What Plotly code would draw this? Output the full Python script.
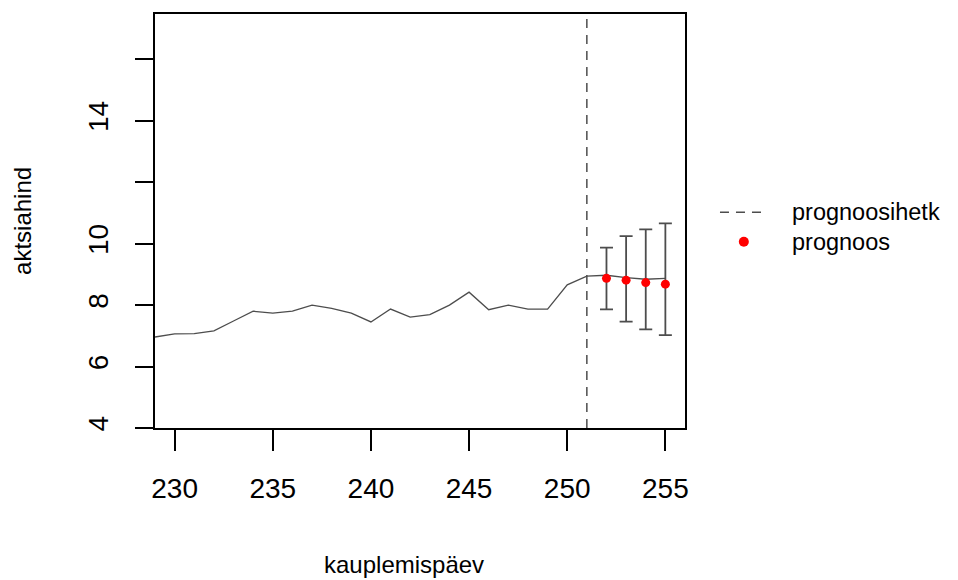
import plotly.graph_objects as go

# observed / fitted price line (trading days 229..255)
days = list(range(229, 256))
price = [6.96, 7.06, 7.07, 7.16, 7.48, 7.80, 7.74, 7.80, 8.00, 7.89, 7.74, 7.45,
         7.87, 7.61, 7.69, 8.00, 8.42, 7.85, 8.00, 7.87, 7.87, 8.66, 8.94,
         8.97, 8.89, 8.84, 8.87]

# forecast points with intervals
fc_days = [252, 253, 254, 255]
fc_value = [8.87, 8.81, 8.73, 8.68]
fc_lower = [7.86, 7.46, 7.21, 7.02]
fc_upper = [9.87, 10.24, 10.46, 10.66]

forecast_start = 251

x_ticks = [230, 235, 240, 245, 250, 255]
y_ticks = [4, 6, 8, 10, 12, 14, 16]
y_ticktext = ["4", "6", "8", "10", "", "14", ""]

legend_labels = ["prognoosihetk", "prognoos"]

FONT = "Liberation Sans, Arial, sans-serif"
GRAY = "#4d4d4d"
DASH = "9px,7px"

fig = go.Figure()

fig.add_trace(go.Scatter(
    x=days, y=price, mode="lines",
    line=dict(color=GRAY, width=1.3),
    showlegend=False, hoverinfo="skip"))

fig.add_trace(go.Scatter(
    x=fc_days, y=fc_value, mode="markers", name=legend_labels[1],
    marker=dict(color="#ff0000", size=9),
    showlegend=False,
    error_y=dict(type="data", symmetric=False,
                 array=[u - v for u, v in zip(fc_upper, fc_value)],
                 arrayminus=[v - l for v, l in zip(fc_value, fc_lower)],
                 color=GRAY, thickness=1.8, width=6.5)))

fig.add_vline(x=forecast_start, line=dict(color=GRAY, width=1.5, dash=DASH))

# legend (drawn beside the plot area, R style)
row_y = [0.521, 0.450]
fig.add_shape(type="line", xref="paper", yref="paper",
              x0=1.066, x1=1.151, y0=row_y[0], y1=row_y[0],
              line=dict(color=GRAY, width=1.5, dash=DASH))
fig.add_shape(type="circle", xref="paper", yref="paper",
              xsizemode="pixel", ysizemode="pixel",
              xanchor=1.111, yanchor=row_y[1], x0=-5, x1=5, y0=-5, y1=5,
              fillcolor="#ff0000", line=dict(color="#ff0000", width=0))

annotations = [
    dict(text="kauplemispäev", xref="paper", yref="paper", x=0.47, y=-0.33,
         xanchor="center", yanchor="middle", showarrow=False,
         font=dict(size=24, family=FONT)),
    dict(text="aktsiahind", xref="paper", yref="paper", x=-0.251, y=0.5,
         xanchor="center", yanchor="middle", showarrow=False, textangle=-90,
         font=dict(size=24, family=FONT)),
]
for lbl, ry in zip(legend_labels, row_y):
    annotations.append(dict(text=lbl, xref="paper", yref="paper", x=1.2,
                            y=ry, xanchor="left", yanchor="middle",
                            showarrow=False, borderpad=0,
                            font=dict(size=23.5, family=FONT)))

fig.update_layout(
    width=958, height=580,
    margin=dict(l=155, r=273, t=14, b=152),
    paper_bgcolor="white", plot_bgcolor="white",
    font=dict(family=FONT, color="#000000"),
    showlegend=False,
    xaxis=dict(range=[229, 256], tickvals=x_ticks, ticks="outside", ticklen=21,
               tickwidth=1.5, tickcolor="#000", showgrid=False, zeroline=False,
               showline=True, linecolor="#000", linewidth=1.5, mirror=True,
               tickfont=dict(size=28, family=FONT), ticklabelstandoff=14),
    yaxis=dict(range=[4, 17.47], tickvals=y_ticks, ticktext=y_ticktext,
               ticks="outside", ticklen=18, tickwidth=1.5, tickcolor="#000",
               showgrid=False, zeroline=False, showline=True, linecolor="#000",
               linewidth=1.5, mirror=True, tickangle=-90,
               tickfont=dict(size=28, family=FONT), ticklabelstandoff=16),
    annotations=annotations,
)

fig.write_html("out.html")
